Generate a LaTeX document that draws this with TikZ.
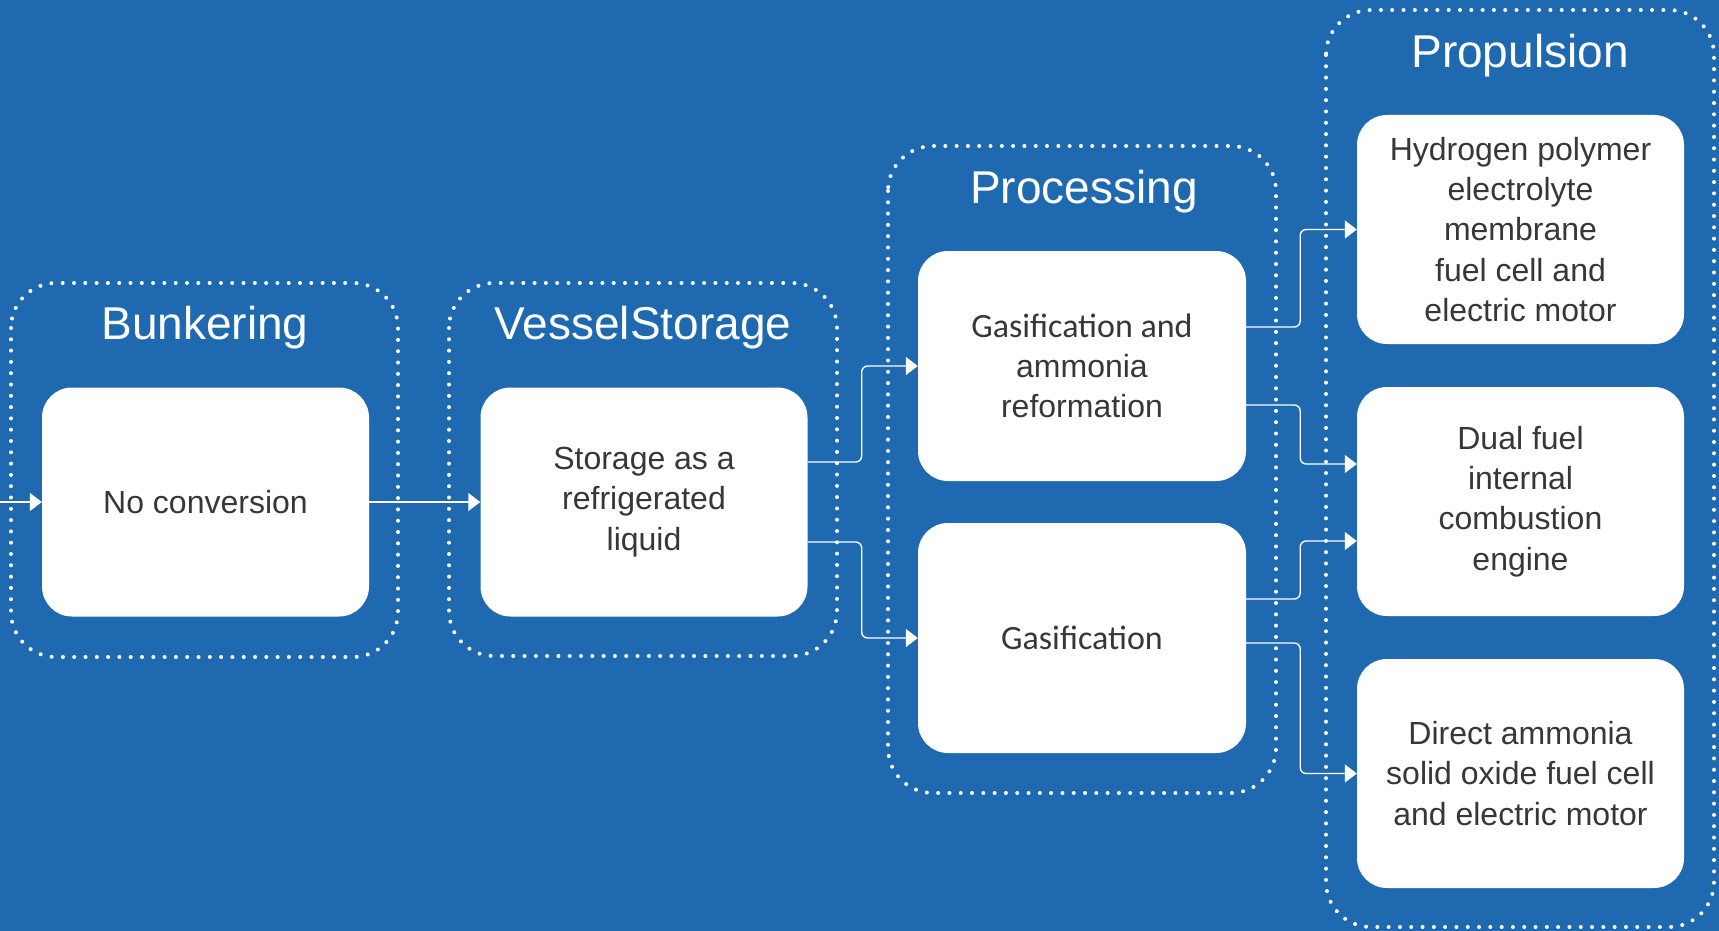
\documentclass[tikz,border=0pt]{standalone}
\usepackage{fontspec}
\setmainfont{Liberation Sans}
\newfontfamily\calfont{Carlito}
\usetikzlibrary{arrows.meta}
\definecolor{bg}{RGB}{31,105,177}
\definecolor{ink}{RGB}{55,55,55}

\begin{document}
\begin{tikzpicture}[x=1pt,y=-1pt,
  group/.style={draw=white, line width=4pt, dash pattern=on 0pt off 11.3pt,
    line cap=round, rounded corners=45pt},
  grouptitle/.style={text=white, anchor=base, inner sep=0pt,
    font=\fontsize{46}{52}\selectfont},
  stage/.style={fill=white, rounded corners=30pt, inner sep=0pt, align=center,
    minimum width=327pt, minimum height=229pt, text=ink,
    font=\fontsize{32}{40.3}\selectfont},
  conn/.style={draw=white, line width=1.4pt, rounded corners=6pt,
    -{Triangle[length=12pt,width=18pt]}}]

% canvas
\fill[bg] (0,0) rectangle (1719,931);
\useasboundingbox (0,0) rectangle (1719,931);

% dotted stage groups
\draw[group] (11,283) rectangle (398,657);
\draw[group] (449,283) rectangle (837,656);
\draw[group] (888,146) rectangle (1276,793);
\draw[group] (1326,10) rectangle (1714,927);

% group titles
\node[grouptitle] (tB) at (205,339) {Bunkering};
\node[grouptitle] (tV) at (643,339) {VesselStorage};
\node[grouptitle] (tP) at (1084,203) {Processing};
\node[grouptitle] (tQ) at (1520,68) {Propulsion};

% stage boxes
\node[stage] (nc) at (205.5,502) {No conversion};
\node[stage] (st) at (644,502) {Storage as a\\refrigerated\\liquid};
\node[stage, minimum width=328pt, minimum height=230pt] (pg) at (1082,366)
  {{\calfont\fontsize{34}{40.3}\selectfont Gasification and}\\ammonia\\reformation};
\node[stage, minimum width=328pt, minimum height=230pt] (g) at (1082,638)
  {\calfont\fontsize{34}{40.3}\selectfont Gasification};
\node[stage] (h) at (1520.5,229.5)
  {Hydrogen polymer\\electrolyte\\membrane\\fuel cell and\\electric motor};
\node[stage] (d) at (1520.5,501.5) {Dual fuel\\internal\\combustion\\engine};
\node[stage] (s) at (1520.5,773.5)
  {Direct ammonia\\solid oxide fuel cell\\and electric motor};

% connectors
\coordinate (in) at (0,502);
\draw[conn] (in) -- (nc.west);
\draw[conn] (nc.east) -- (st.west);
\draw[conn] ([yshift=40pt]st.east) -- ++(54,0) |- (pg.west);
\draw[conn] ([yshift=-40pt]st.east) -- ++(54,0) |- (g.west);
\draw[conn] ([yshift=39pt]pg.east) -- ++(54,0) |- (h.west);
\draw[conn] ([yshift=-39pt]pg.east) -- ++(54,0) |- ([yshift=37.5pt]d.west);
\draw[conn] ([yshift=39pt]g.east) -- ++(54,0) |- ([yshift=-39.5pt]d.west);
\draw[conn] ([yshift=-5pt]g.east) -- ++(54,0) |- (s.west);
\end{tikzpicture}
\end{document}
